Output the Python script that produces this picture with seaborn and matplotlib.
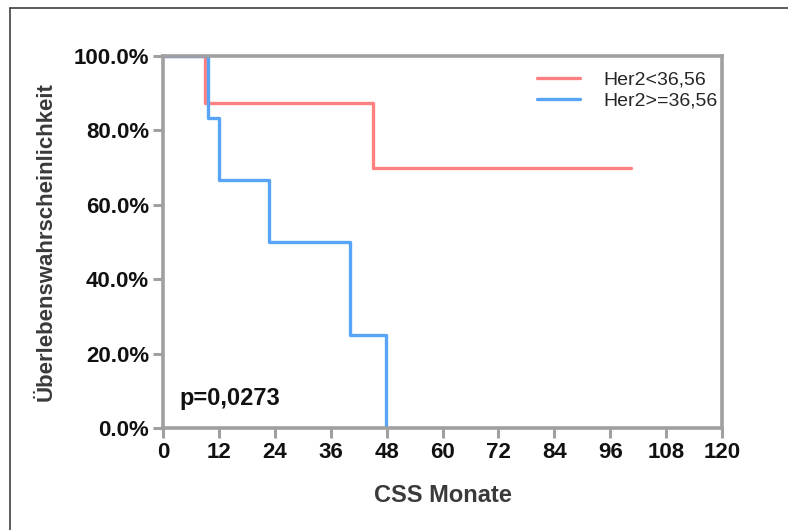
import matplotlib
matplotlib.use("Agg")
import matplotlib.pyplot as plt
import seaborn as sns
import pandas as pd
from matplotlib.lines import Line2D

# Data (Kaplan-Meier step points)
groups = ["Her2<36,56", "Her2>=36,56"]
red_times = [0, 9.0, 45.0, 100.5]
red_surv = [100, 87.5, 70.0, 70.0]
blue_times = [0, 9.7, 12.0, 22.8, 40.1, 47.9]
blue_surv = [100, 83.3, 66.7, 50.0, 25.0, 0.0]
x_ticks = [0, 12, 24, 36, 48, 60, 72, 84, 96, 108, 120]
y_ticks = [0, 20, 40, 60, 80, 100]
y_tick_labels = ["0.0%", "20.0%", "40.0%", "60.0%", "80.0%", "100.0%"]
p_text = "p=0,0273"

colors = {"Her2<36,56": "#FF8080", "Her2>=36,56": "#58A4F7"}

df = pd.concat([
    pd.DataFrame({"t": red_times, "s": red_surv, "g": groups[0]}),
    pd.DataFrame({"t": blue_times, "s": blue_surv, "g": groups[1]}),
], ignore_index=True)

sns.set_style("white")
plt.rcParams["font.family"] = ["Liberation Sans", "DejaVu Sans"]

fig = plt.figure(figsize=(7.88, 5.30), dpi=100)
ax = fig.add_axes([163/788, 1-428/530, (722-163)/788, (428-56)/530])

sns.lineplot(data=df, x="t", y="s", hue="g", palette=colors, estimator=None,
             sort=False, drawstyle="steps-post", linewidth=2.4, ax=ax, legend=False)

ax.set_xlim(0, 120)
ax.set_ylim(0, 100)
ax.set_xticks(x_ticks)
ax.set_xticklabels([str(v) for v in x_ticks], fontsize=16, fontweight="bold")
ax.set_yticks(y_ticks)
ax.set_yticklabels(y_tick_labels, fontsize=16, fontweight="bold")
ax.tick_params(axis="both", direction="out", length=7, width=2.2, color="#A0A0A0",
               pad=3, left=True, bottom=True, labelcolor="#111111")
for sp in ax.spines.values():
    sp.set_color("#A0A0A0")
    sp.set_linewidth(2.6)
    sp.set_visible(True)

ax.set_xlabel("CSS Monate", fontsize=17, fontweight="bold", color="#3A3A3A", labelpad=15)
ax.set_ylabel("Überlebenswahrscheinlichkeit", fontsize=16, fontweight="bold",
              color="#3A3A3A", labelpad=12)

ax.text(3.6, 8, p_text, fontsize=17, fontweight="bold", va="center", ha="left",
        color="#111111")

handles = [Line2D([0], [0], color=colors[g], lw=2.4) for g in groups]
ax.legend(handles, groups, loc="upper left", bbox_to_anchor=(0.652, 0.985),
          frameon=False, fontsize=14, handlelength=2.2, handletextpad=1.2,
          labelspacing=0.15, borderpad=0)

# outer frame (partially visible)
fig.add_artist(Line2D([10/788, 10/788], [0, 1-8/530], color="#404040", lw=1.2,
                      transform=fig.transFigure))
fig.add_artist(Line2D([10/788, 1], [1-8/530, 1-8/530], color="#404040", lw=1.2,
                      transform=fig.transFigure))

fig.savefig("out.png", dpi=100)
